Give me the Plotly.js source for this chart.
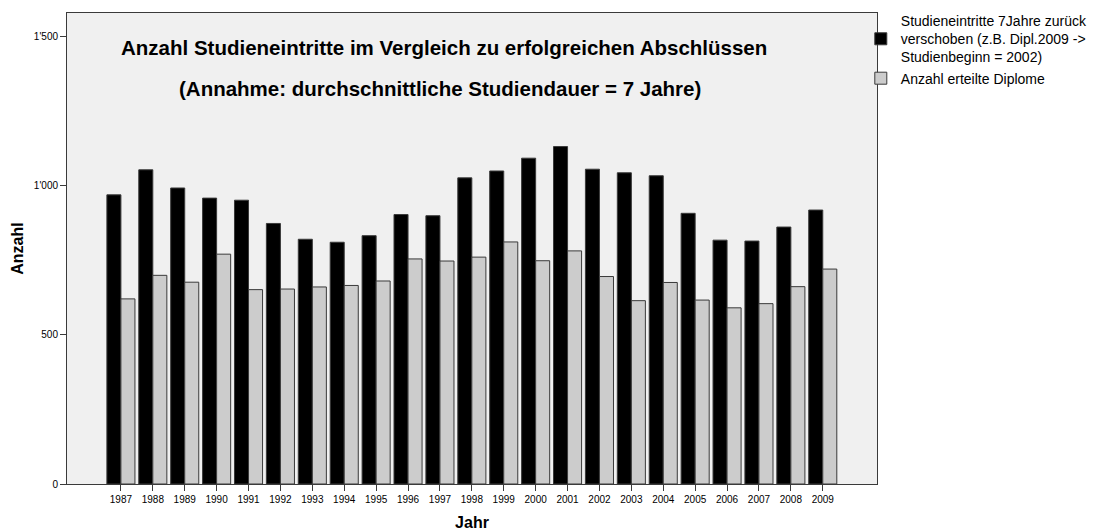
<!DOCTYPE html>
<html>
<head>
<meta charset="utf-8">
<script src="https://cdn.plot.ly/plotly-3.0.1.min.js"></script>
<style>
body { margin: 0; background: #fff; }
#chart { width: 1118px; height: 531px; }
</style>
</head>
<body>
<div id="chart"></div>
<script>
var years = ["1987", "1988", "1989", "1990", "1991", "1992", "1993", "1994", "1995", "1996", "1997", "1998",
	"1999", "2000", "2001", "2002", "2003", "2004", "2005", "2006", "2007", "2008", "2009"];

// Studieneintritte, 7 Jahre zurueck verschoben
var eintritte = [970, 1054, 993, 959, 952, 874, 821, 811, 833, 904, 900, 1027,
	1050, 1093, 1132, 1056, 1044, 1034, 908, 818, 815, 862, 919];

// Anzahl erteilte Diplome
var diplome = [621, 700, 677, 771, 652, 654, 661, 666, 681, 755, 748, 761,
	812, 749, 782, 696, 615, 676, 617, 591, 605, 662, 721];

var yTicks = [0, 500, 1000, 1500];

var font = "Liberation Sans, Arial, sans-serif";
var edge = "#3a3a3a";

var bars_e = {
	type: "bar",
	x: years,
	y: eintritte,
	name: "Studieneintritte 7Jahre zurück<br>verschoben (z.B. Dipl.2009 -><br>Studienbeginn = 2002)",
	marker: {
		color: "#000000",
		line: { color: edge, width: 1 }
	},
	hoverinfo: "x+y"
};

var bars_d = {
	type: "bar",
	x: years,
	y: diplome,
	name: "Anzahl erteilte Diplome",
	marker: {
		color: "#cccccc",
		line: { color: edge, width: 1 }
	},
	hoverinfo: "x+y"
};

var layout = {
	width: 1118,
	height: 531,
	margin: { l: 67, r: 241, t: 13, b: 47, autoexpand: false },
	paper_bgcolor: "#ffffff",
	plot_bgcolor: "#f0f0f0",
	font: { family: font, size: 10, color: "#000" },
	separators: ".'",
	barmode: "group",
	bargap: 0.12,
	bargroupgap: 0,
	showlegend: true,
	legend: {
		x: 0.980,
		xanchor: "left",
		y: 1.017,
		yanchor: "top",
		bgcolor: "rgba(0,0,0,0)",
		borderwidth: 0,
		itemwidth: 30,
		tracegroupgap: 0,
		font: { family: font, size: 14, color: "#000" }
	},
	xaxis: {
		type: "category",
		range: [-1.69, 23.70],
		showline: true,
		mirror: true,
		linecolor: edge,
		linewidth: 1,
		ticks: "outside",
		ticklen: 6,
		tickcolor: edge,
		tickfont: { family: font, size: 10 },
		showgrid: false,
		zeroline: false,
		fixedrange: true,
		title: {
			text: "<b>Jahr</b>",
			font: { family: font, size: 16 },
			standoff: 14
		}
	},
	yaxis: {
		range: [0, 1580],
		tickvals: yTicks,
		separatethousands: true,
		showline: true,
		mirror: true,
		linecolor: edge,
		linewidth: 1,
		ticks: "outside",
		ticklen: 6,
		tickcolor: edge,
		tickfont: { family: font, size: 10 },
		showgrid: false,
		zeroline: false,
		fixedrange: true,
		title: {
			text: "<b>Anzahl</b>",
			font: { family: font, size: 16 },
			standoff: 6
		}
	},
	annotations: [
		{
			xref: "paper", yref: "paper",
			x: 0.465, y: 0.927,
			xanchor: "center", yanchor: "middle",
			showarrow: false,
			text: "<b>Anzahl Studieneintritte im Vergleich zu erfolgreichen Abschlüssen</b>",
			font: { family: font, size: 20.5, color: "#000" }
		},
		{
			xref: "paper", yref: "paper",
			x: 0.461, y: 0.839,
			xanchor: "center", yanchor: "middle",
			showarrow: false,
			text: "<b>(Annahme: durchschnittliche Studiendauer = 7 Jahre)</b>",
			font: { family: font, size: 20.5, color: "#000" }
		}
	]
};

Plotly.newPlot("chart", [bars_e, bars_d], layout, { displayModeBar: false, staticPlot: true });
</script>
</body>
</html>
